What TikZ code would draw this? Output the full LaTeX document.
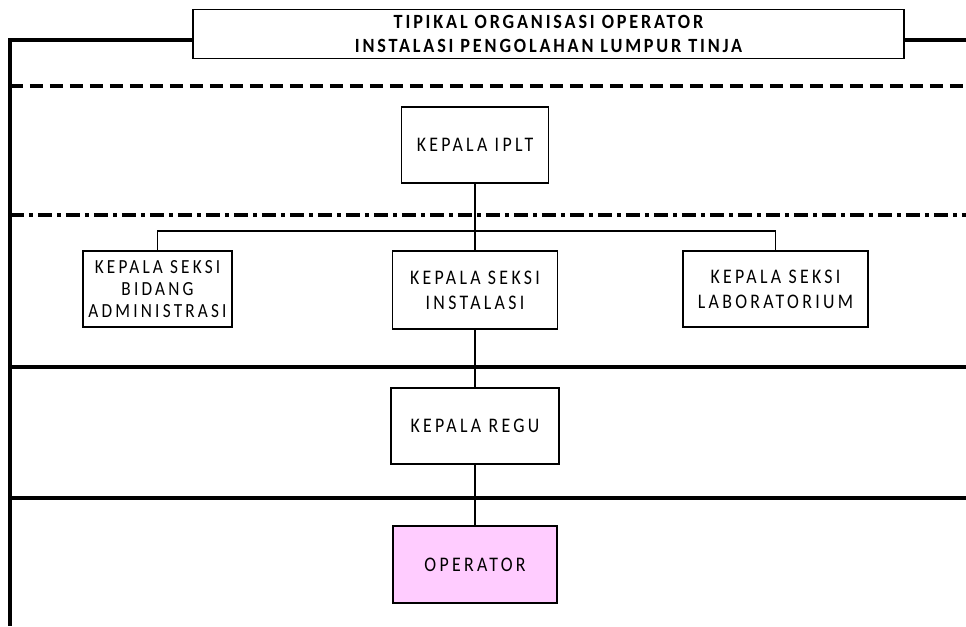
\documentclass[tikz,border=0pt]{standalone}
\usepackage{fontspec}
\setmainfont{Carlito}
\newfontfamily\boxfont[LetterSpace=16, FakeStretch=0.86]{Carlito}
\newfontfamily\titlefont[LetterSpace=14, FakeStretch=0.9]{Carlito}
\usepackage{tikz}
\usepackage{xcolor}
\definecolor{oppink}{HTML}{FFCCFF}

\begin{document}
\begin{tikzpicture}[x=0.02cm, y=-0.02cm,
        posbox/.style={draw, rectangle, line width=0.8pt, align=center, inner sep=0pt,
            font=\boxfont\fontsize{11.8}{14.2}\selectfont},
        thickline/.style={line width=2.3pt},
        link/.style={line width=0.6pt}]
            \useasboundingbox (0,0) rectangle (966,626);

            % Title
            \node[draw, rectangle, line width=0.8pt, minimum width=14.22cm, minimum height=0.96cm, align=center,
                  font=\titlefont\bfseries\fontsize{11.5}{13.6}\selectfont] (title) at (548.5, 34)
                  {TIPIKAL ORGANISASI OPERATOR\\INSTALASI PENGOLAHAN LUMPUR TINJA};

            % Frame lines
            \draw[thickline] (title.west |- 0,40) -- (10,40) -- (10,626);
            \draw[thickline] (title.east |- 0,40) -- (966,40);
            \draw[thickline, dash pattern=on 0.27cm off 0.13cm] (10,86) -- (966,86);
            \draw[thickline, dash pattern=on 0.28cm off 0.1cm on 0.08cm off 0.1cm] (10,215) -- (966,215);
            \draw[thickline] (10,367) -- (966,367);
            \draw[thickline] (10,498) -- (966,498);

            % Head
            \node[posbox, minimum width=2.94cm, minimum height=1.52cm] (iplt) at (475, 145) {KEPALA IPLT};

            % Sections
            \node[posbox, minimum width=2.98cm, minimum height=1.52cm, font=\boxfont\fontsize{11.4}{12.4}\selectfont]
                  (adm) at (157.5, 289) {KEPALA SEKSI\\BIDANG\\ADMINISTRASI};
            \node[posbox, minimum width=3.3cm, minimum height=1.56cm] (inst) at (475, 290) {KEPALA SEKSI\\INSTALASI};
            \node[posbox, minimum width=3.7cm, minimum height=1.52cm] (lab) at (775.5, 289) {KEPALA SEKSI\\LABORATORIUM};

            % Team leader and operator
            \node[posbox, minimum width=3.36cm, minimum height=1.52cm] (regu) at (475, 426) {KEPALA REGU};
            \node[posbox, fill=oppink, minimum width=3.28cm, minimum height=1.54cm] (op) at (475, 564.5) {OPERATOR};

            % Connectors
            \coordinate (bar) at (0, 231);
            \draw[link] (iplt.south) -- (inst.north);
            \draw[link] (adm.north) -- (adm.north |- bar) -- (lab.north |- bar) -- (lab.north);
            \draw[link] (inst.south) -- (regu.north);
            \draw[link] (regu.south) -- (op.north);
\end{tikzpicture}
\end{document}
